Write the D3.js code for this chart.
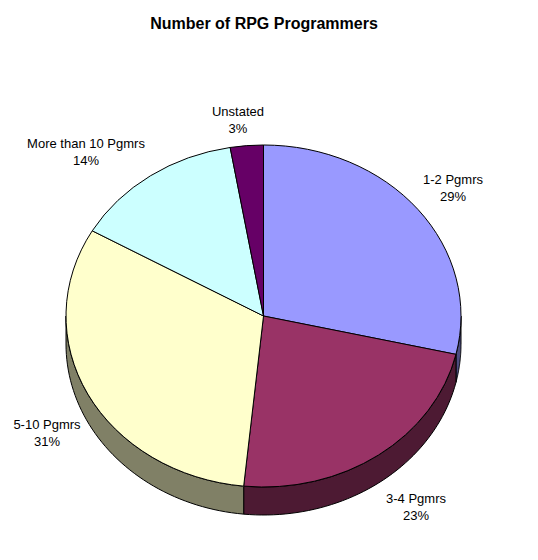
<!DOCTYPE html>
<html><head><meta charset="utf-8">
<script src="https://cdn.jsdelivr.net/npm/d3@7"></script>
<style>html,body{margin:0;padding:0;background:#fff}svg{display:block}text{font-family:"Liberation Sans",Arial,sans-serif;fill:#000}</style>
</head><body><svg id="c" width="538" height="560"></svg>
<script>
const categories = ["1-2 Pgmrs","3-4 Pgmrs","5-10 Pgmrs","More than 10 Pgmrs","Unstated"];
const values = [28.6,23.0,31.7,14.0,2.7];
const percentLabels = ["29%","23%","31%","14%","3%"];
const topColors = ["#9999FF","#993366","#FFFFCC","#CCFFFF","#660066"];
const sideColors = ["#4D4D80","#4D1A33","#808066","#668080","#330033"];
const titleText = "Number of RPG Programmers";

const cx=263.5, cy=316, rx=197.5, ry=171, depth=28;
const labelPos=[[453,179],[416,498],[47,424],[86,143],[238,111]];
const svg=d3.select("#c");
svg.append("text").attr("x",264).attr("y",29).attr("text-anchor","middle").attr("font-size",16).attr("font-weight","bold").text(titleText);

const pie=d3.pie().sort(null)(values);
const X=a=>cx+rx*Math.sin(a), Y=a=>cy-ry*Math.cos(a);
const line=d3.line();
// side wall
pie.forEach((d,i)=>{
  const a0=Math.max(d.startAngle,Math.PI/2), a1=Math.min(d.endAngle,Math.PI*1.5);
  if(a1<=a0) return;
  const ang=d3.range(0,49).map(k=>a0+(a1-a0)*k/48);
  const pts=ang.map(a=>[X(a),Y(a)]).concat(ang.slice().reverse().map(a=>[X(a),Y(a)+depth]));
  svg.append("path").attr("d",line(pts)+"Z").attr("fill",sideColors[i]).attr("stroke","#000").attr("stroke-width",1);
});
// top
const arc=d3.arc().innerRadius(0).outerRadius(rx);
const g=svg.append("g").attr("transform",`translate(${cx},${cy}) scale(1,${ry/rx})`);
g.selectAll("path").data(pie).join("path").attr("d",arc).attr("fill",(d,i)=>topColors[i])
 .attr("stroke","#000").attr("stroke-width",1).attr("vector-effect","non-scaling-stroke");
// labels
categories.forEach((c,i)=>{
  const t=svg.append("text").attr("text-anchor","middle").attr("font-size",13);
  t.append("tspan").attr("x",labelPos[i][0]).attr("y",labelPos[i][1]+5).text(c);
  t.append("tspan").attr("x",labelPos[i][0]).attr("y",labelPos[i][1]+22).text(percentLabels[i]);
});
</script></body></html>
